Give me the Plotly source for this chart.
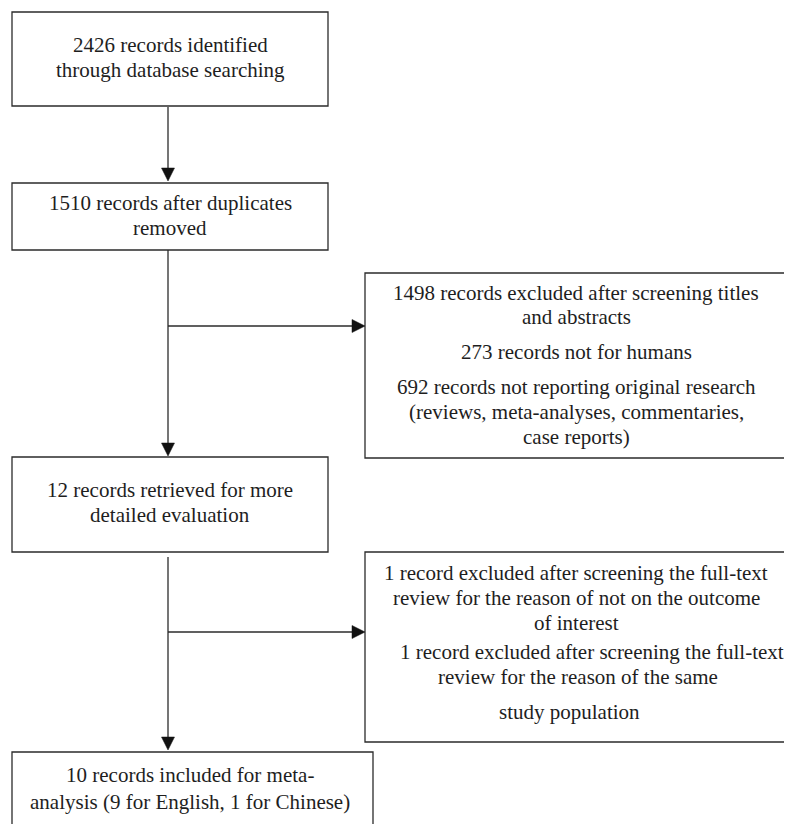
import plotly.graph_objects as go

# ---- content ----
box1_lines = ["2426 records identified", "through database searching"]
box2_lines = ["1510 records after duplicates", "removed"]
box3_lines = ["12 records retrieved for more", "detailed evaluation"]
box4_paras = [
    ["1498 records excluded after screening titles", "and abstracts"],
    ["273 records not for humans"],
    ["692 records not reporting original research",
     "(reviews, meta-analyses, commentaries,", "case reports)"],
]
box5_paras = [
    ["1 record excluded after screening the full-text",
     "review for the reason of not on the outcome", "of interest"],
    ["1 record excluded after screening the full-text",
     "review for the reason of the same", "study population"],
]
box6_lines = ["10 records included for meta-", "analysis (9 for English, 1 for Chinese)"]

# ---- layout geometry (page pixels, y downward) ----
OFF = 8  # page body margin
W, H = 792, 824
boxes = {
    "b1": (12, 12, 328, 106),
    "b2": (12, 183, 328, 250),
    "b3": (12, 457, 328, 552),
    "b4": (365, 273, 805, 458),
    "b5": (365, 552, 805, 742),
    "b6": (12, 752, 373, 840),
}
LC = "#2b2b2b"
FONT = dict(family="Liberation Serif, Times New Roman, serif", size=21, color="#1e1e1e")
spine_x = 168

shapes = []
for k, (x0, y0, x1, y1) in boxes.items():
    shapes.append(dict(type="rect", x0=x0, y0=y0, x1=x1, y1=y1,
                       line=dict(color=LC, width=1.3), fillcolor="rgba(0,0,0,0)"))

def vline(x, y0, y1):
    shapes.append(dict(type="line", x0=x, x1=x, y0=y0, y1=y1, line=dict(color=LC, width=1.3)))

def hline(y, x0, x1):
    shapes.append(dict(type="line", x0=x0, x1=x1, y0=y, y1=y, line=dict(color=LC, width=1.3)))

def head_down(x, ytip, size=13, half=6.5):
    shapes.append(dict(type="path",
                       path=f"M {x-half},{ytip-size} L {x+half},{ytip-size} L {x},{ytip} Z",
                       fillcolor="#111", line=dict(color="#111", width=0.5)))

def head_right(xtip, y, size=13, half=6.5):
    shapes.append(dict(type="path",
                       path=f"M {xtip-size},{y-half} L {xtip-size},{y+half} L {xtip},{y} Z",
                       fillcolor="#111", line=dict(color="#111", width=0.5)))

# arrow b1 -> b2
vline(spine_x, 107, 172)
head_down(spine_x, 181)
# b2 -> b3 with branch to b4
vline(spine_x, 250, 446)
head_down(spine_x, 456)
hline(326, spine_x, 354)
head_right(365, 326)
# b3 -> b6 with branch to b5
vline(spine_x, 557, 740)
head_down(spine_x, 750)
hline(632, spine_x, 354)
head_right(365, 632)

annotations = []
def put(text, x, y):
    annotations.append(dict(text=text, x=x, y=y, xref="x", yref="y", showarrow=False,
                            font=FONT, xanchor="center", yanchor="middle"))

def put_lines(lines, cx, ys):
    for t, y in zip(lines, ys):
        put(t, cx, y)

put_lines(box1_lines, 170, [45, 70])
put_lines(box2_lines, 170, [203, 228])
put_lines(box3_lines, 170, [490, 515])
put_lines(box4_paras[0], 576, [293, 317])
put_lines(box4_paras[1], 576, [352])
put_lines(box4_paras[2], 576, [387, 412, 437])
put_lines(box5_paras[0], 576, [573, 598, 623])
put(box5_paras[1][0], 592, 652)
put(box5_paras[1][1], 578, 677)
put(box5_paras[1][2], 569, 712)
put_lines(box6_lines, 190, [775, 802])

fig = go.Figure()
fig.update_layout(
    width=W - OFF, height=H - OFF, margin=dict(l=0, r=0, t=0, b=0),
    paper_bgcolor="white", plot_bgcolor="white",
    xaxis=dict(range=[OFF, W], visible=False, fixedrange=True),
    yaxis=dict(range=[H, OFF], visible=False, fixedrange=True),
    shapes=shapes, annotations=annotations, showlegend=False,
)
fig.write_html("out.html", config={"displayModeBar": False})
